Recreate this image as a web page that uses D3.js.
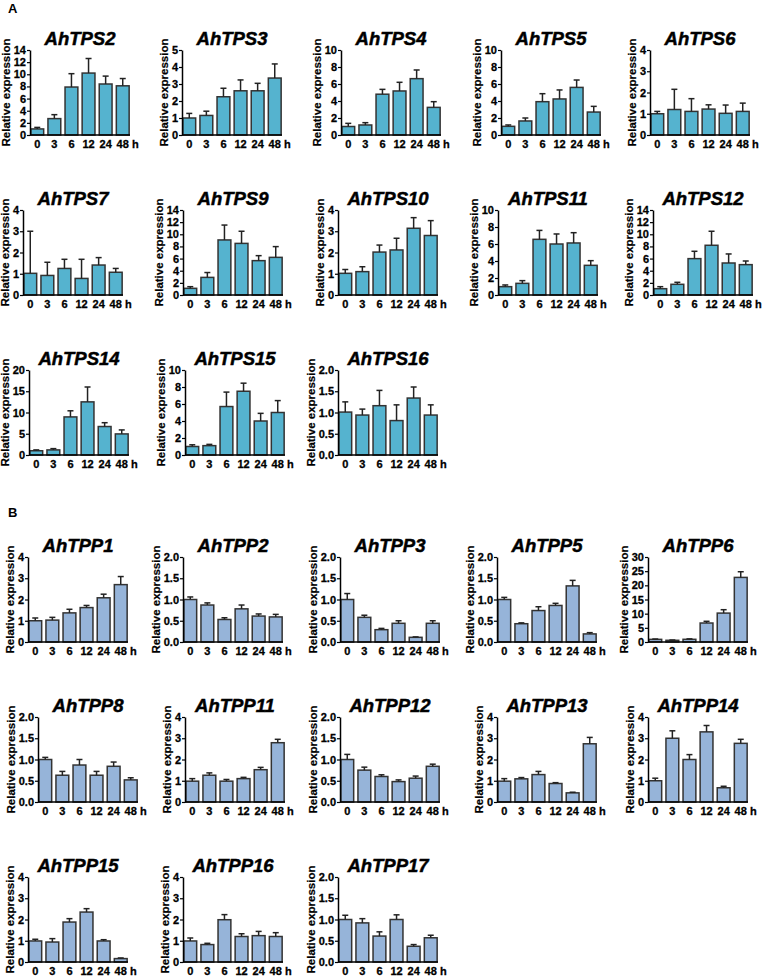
<!DOCTYPE html>
<html>
<head>
<meta charset="utf-8">
<script src="https://cdn.jsdelivr.net/npm/d3@7"></script>
<style>
  html, body { margin: 0; padding: 0; background: #fff; }
  svg { display: block; }
  text { font-family: "Liberation Sans", Arial, sans-serif; font-weight: bold; }
</style>
</head>
<body>
<svg id="chart" width="768" height="976"></svg>
<script>
// ---------- data ----------
const timeLabels = ["0", "3", "6", "12", "24", "48"];

const tpsGenes = ["AhTPS2","AhTPS3","AhTPS4","AhTPS5","AhTPS6",
                  "AhTPS7","AhTPS9","AhTPS10","AhTPS11","AhTPS12",
                  "AhTPS14","AhTPS15","AhTPS16"];
const tpsMeans = [
  [1.0, 2.7, 7.9, 10.2, 8.4, 8.1],
  [1.0, 1.15, 2.25, 2.6, 2.6, 3.35],
  [1.0, 1.18, 4.8, 5.18, 6.63, 3.25],
  [1.02, 1.65, 3.92, 4.24, 5.6, 2.7],
  [1.0, 1.2, 1.11, 1.22, 1.02, 1.11],
  [1.02, 0.92, 1.25, 0.78, 1.41, 1.07],
  [1.1, 2.9, 9.07, 8.5, 5.66, 6.2],
  [1.02, 1.1, 2.02, 2.12, 3.14, 2.8],
  [0.98, 1.37, 6.55, 6.0, 6.12, 3.49],
  [1.04, 1.76, 5.99, 8.19, 5.27, 5.0],
  [1.0, 1.2, 8.96, 12.5, 6.7, 4.96],
  [1.0, 1.1, 5.7, 7.5, 4.0, 5.0],
  [1.01, 0.94, 1.16, 0.81, 1.34, 0.94]
];
const tpsErrs = [
  [0.25, 0.65, 2.2, 2.4, 1.3, 1.2],
  [0.27, 0.25, 0.5, 0.64, 0.44, 0.83],
  [0.37, 0.27, 0.57, 1.02, 1.02, 0.67],
  [0.16, 0.35, 0.94, 1.06, 0.87, 0.67],
  [0.11, 0.95, 0.6, 0.2, 0.39, 0.39],
  [1.98, 0.62, 0.43, 0.9, 0.35, 0.18],
  [0.27, 0.8, 2.45, 2.0, 0.82, 1.77],
  [0.18, 0.23, 0.33, 0.55, 0.5, 0.7],
  [0.2, 0.32, 1.05, 1.18, 1.21, 0.55],
  [0.33, 0.33, 1.21, 2.31, 1.49, 0.6],
  [0.2, 0.3, 1.44, 3.5, 0.9, 0.94],
  [0.2, 0.15, 1.7, 0.95, 0.9, 1.4],
  [0.24, 0.14, 0.36, 0.37, 0.26, 0.24]
];
const tpsYMax  = [14, 5, 10, 10, 4, 4, 14, 4, 10, 14, 20, 10, 2];
const tpsYStep = [2, 1, 2, 2, 1, 1, 2, 1, 2, 2, 5, 2, 0.5];

const tppGenes = ["AhTPP1","AhTPP2","AhTPP3","AhTPP5","AhTPP6",
                  "AhTPP8","AhTPP11","AhTPP12","AhTPP13","AhTPP14",
                  "AhTPP15","AhTPP16","AhTPP17"];
const tppMeans = [
  [1.0, 1.03, 1.37, 1.62, 2.08, 2.7],
  [1.0, 0.87, 0.53, 0.78, 0.61, 0.59],
  [1.0, 0.58, 0.29, 0.44, 0.11, 0.44],
  [1.0, 0.43, 0.74, 0.86, 1.32, 0.19],
  [0.93, 0.6, 0.95, 6.7, 10.2, 22.8],
  [1.0, 0.63, 0.87, 0.63, 0.84, 0.52],
  [0.98, 1.26, 0.98, 1.1, 1.52, 2.79],
  [1.0, 0.75, 0.6, 0.48, 0.56, 0.84],
  [0.98, 1.09, 1.29, 0.87, 0.43, 2.74],
  [1.0, 3.0, 2.0, 3.3, 0.67, 2.76],
  [0.99, 0.94, 1.88, 2.35, 0.99, 0.16],
  [0.99, 0.82, 1.99, 1.2, 1.24, 1.2],
  [1.0, 0.92, 0.61, 1.0, 0.37, 0.57]
];
const tppErrs = [
  [0.13, 0.13, 0.17, 0.1, 0.17, 0.38],
  [0.06, 0.05, 0.04, 0.09, 0.05, 0.06],
  [0.14, 0.05, 0.03, 0.06, 0.01, 0.06],
  [0.05, 0.02, 0.09, 0.05, 0.13, 0.03],
  [0.12, 0.1, 0.15, 0.6, 1.2, 2.0],
  [0.05, 0.09, 0.13, 0.09, 0.1, 0.05],
  [0.12, 0.11, 0.08, 0.06, 0.11, 0.16],
  [0.12, 0.07, 0.04, 0.04, 0.05, 0.05],
  [0.12, 0.06, 0.15, 0.04, 0.03, 0.3],
  [0.12, 0.35, 0.23, 0.3, 0.07, 0.19],
  [0.08, 0.16, 0.16, 0.16, 0.06, 0.03],
  [0.14, 0.06, 0.24, 0.13, 0.2, 0.18],
  [0.1, 0.1, 0.1, 0.11, 0.04, 0.06]
];
const tppYMax  = [4, 2, 2, 2, 30, 2, 4, 2, 4, 4, 4, 4, 2];
const tppYStep = [1, 0.5, 0.5, 0.5, 5, 0.5, 1, 0.5, 1, 1, 1, 1, 0.5];

// ---------- layout ----------
const plotW = 100, plotH = 85;
const tpsAxisX = [30, 182, 341, 501, 650, 23, 183, 338, 498, 653, 29, 185, 338];
const tppAxisX = [28, 183, 340, 497, 648, 38, 185, 340, 497, 648, 28, 183, 338];
const tpsRowTop = [50, 210, 370];
const tppRowTop = [557, 717, 877];
const tpsFill = "#55b3cf";
const tppFill = "#96b4d9";

const svg = d3.select("#chart");

svg.append("text").attr("x", 8).attr("y", 13).attr("font-size", 13).text("A");
svg.append("text").attr("x", 8).attr("y", 517).attr("font-size", 13).text("B");

function drawPanel(name, means, errs, ymax, ystep, axisX, top, fill) {
  const g = svg.append("g");
  const bottom = top + plotH;
  const x = d3.scaleBand().domain(timeLabels)
    .range([axisX, axisX + plotW]).paddingInner(0.25).paddingOuter(0.05);
  const y = d3.scaleLinear().domain([0, ymax]).range([bottom, top]);

  // bars
  g.selectAll("rect.bar").data(means).enter().append("rect")
    .attr("x", (d, i) => x(timeLabels[i]))
    .attr("y", d => y(d))
    .attr("width", x.bandwidth())
    .attr("height", d => y(0) - y(d))
    .attr("fill", fill)
    .attr("stroke", "#333")
    .attr("stroke-width", 1.5);

  // error bars (upper only)
  const capW = 6;
  means.forEach((m, i) => {
    const cx = x(timeLabels[i]) + x.bandwidth() / 2;
    const y1 = y(m), y2 = y(m + errs[i]);
    g.append("line").attr("x1", cx).attr("x2", cx).attr("y1", y1).attr("y2", y2)
      .attr("stroke", "#222").attr("stroke-width", 1.5);
    g.append("line").attr("x1", cx - capW / 2).attr("x2", cx + capW / 2)
      .attr("y1", y2).attr("y2", y2)
      .attr("stroke", "#222").attr("stroke-width", 1.5);
  });

  // y axis
  const ticks = d3.range(0, ymax + ystep / 2, ystep);
  const fmt = ystep < 1 ? d3.format(".1f") : d3.format("d");
  const ya = g.append("g").attr("transform", `translate(${axisX},0)`)
    .call(d3.axisLeft(y).tickValues(ticks).tickFormat(fmt).tickSize(3).tickSizeOuter(0).tickPadding(1));
  ya.select(".domain").attr("stroke", "#000").attr("stroke-width", 1.5);
  ya.selectAll(".tick line").attr("stroke", "#000").attr("stroke-width", 1.2);
  ya.selectAll("text").attr("font-size", 11).attr("font-family", "Liberation Sans, Arial, sans-serif")
    .attr("font-weight", "bold").attr("fill", "#000")
    .attr("stroke", "#000").attr("stroke-width", 0.3);

  // x axis
  const xa = g.append("g").attr("transform", `translate(0,${bottom})`)
    .call(d3.axisBottom(x).tickSize(0).tickSizeOuter(0).tickPadding(5));
  xa.select(".domain").attr("stroke", "#000").attr("stroke-width", 1.5)
    .attr("d", `M${axisX},0H${axisX + plotW}`);
  xa.selectAll("text").attr("font-size", 11).attr("font-family", "Liberation Sans, Arial, sans-serif")
    .attr("font-weight", "bold").attr("fill", "#000")
    .attr("stroke", "#000").attr("stroke-width", 0.3);
  g.append("text").attr("x", axisX + 102).attr("y", bottom + 13)
    .attr("font-size", 11).attr("stroke", "#000").attr("stroke-width", 0.3).text("h");

  // y label
  const bb = ya.node().getBBox();
  const lx = axisX + bb.x - 4;
  g.append("text")
    .attr("transform", `translate(${lx},${top + plotH / 2}) rotate(-90)`)
    .attr("text-anchor", "middle")
    .attr("font-size", 11.5)
    .attr("stroke", "#000").attr("stroke-width", 0.2)
    .text("Relative expression");

  // title
  g.append("text").attr("x", axisX + plotW / 2).attr("y", top - 5)
    .attr("text-anchor", "middle").attr("font-size", 18.5)
    .attr("font-style", "italic")
    .attr("stroke", "#000").attr("stroke-width", 0.5)
    .text(name);
}

tpsGenes.forEach((name, i) => {
  drawPanel(name, tpsMeans[i], tpsErrs[i], tpsYMax[i], tpsYStep[i],
            tpsAxisX[i], tpsRowTop[Math.floor(i / 5)], tpsFill);
});
tppGenes.forEach((name, i) => {
  drawPanel(name, tppMeans[i], tppErrs[i], tppYMax[i], tppYStep[i],
            tppAxisX[i], tppRowTop[Math.floor(i / 5)], tppFill);
});
</script>
</body>
</html>
